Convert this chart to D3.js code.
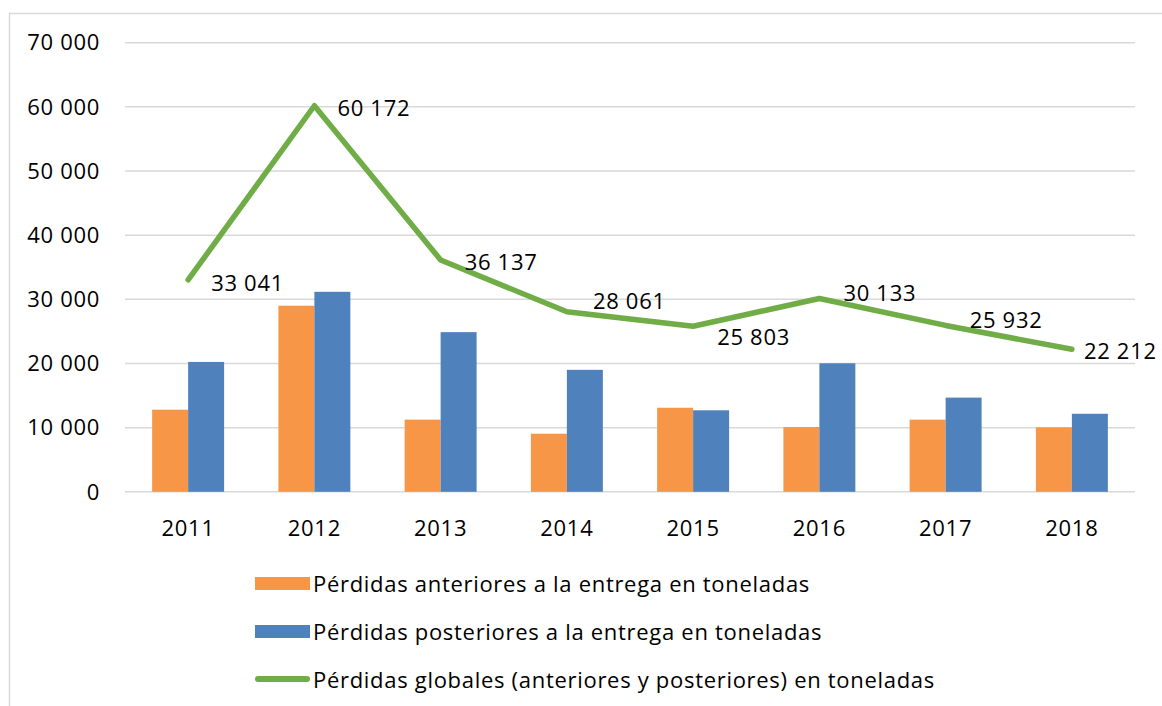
<!DOCTYPE html>
<html>
<head>
<meta charset="utf-8">
<script src="https://cdn.jsdelivr.net/npm/d3@7"></script>
<style>
  body { margin: 0; background: #fff; }
  text { font-family: "Open Sans", sans-serif; fill: #000; letter-spacing: 0.7px; }
</style>
</head>
<body>
<div id="chart"></div>
<script>
// chart data
var years = ["2011", "2012", "2013", "2014", "2015", "2016", "2017", "2018"];
var antes = [12800, 29000, 11250, 9050, 13100, 10100, 11250, 10050];
var despues = [20241, 31172, 24887, 19011, 12703, 20033, 14682, 12162];
var globales = [33041, 60172, 36137, 28061, 25803, 30133, 25932, 22212];
var yTicks = [0, 10000, 20000, 30000, 40000, 50000, 60000, 70000];
var seriesNames = [
    "Pérdidas anteriores a la entrega en toneladas",
    "Pérdidas posteriores a la entrega en toneladas",
    "Pérdidas globales (anteriores y posteriores) en toneladas"
];

// label nudges (the labels were moved by hand in the original)
var labelOffsets = [[23, 3], [23, 3], [24, 2], [26, -10], [24, 11], [24, -5], [24, -5], [12, 2]];

var width = 1162, height = 706;
var colors = ["#F79646", "#4F81BD", "#70AD47"];

var svg = d3.select("#chart").append("svg")
    .attr("width", width)
    .attr("height", height);

// chart border (only left and top visible)
svg.append("path")
    .attr("d", "M9.5,706 V13.5 H1162")
    .attr("fill", "none")
    .attr("stroke", "#D9D9D9")
    .attr("stroke-width", 1.5);

var x = d3.scaleBand()
    .domain(years)
    .range([125, 1135])
    .paddingInner(0.43)
    .paddingOuter(0.215);

var x1 = d3.scaleBand()
    .domain([0, 1])
    .range([0, x.bandwidth()]);

var y = d3.scaleLinear()
    .domain([0, 70000])
    .range([491.8, 42.7]);

function fmt(v) {
    return d3.format(",")(v).replace(/,/g, " ");
}

// gridlines
svg.append("g")
    .selectAll("line")
    .data(yTicks)
    .enter()
    .append("line")
    .attr("x1", 125)
    .attr("x2", 1135)
    .attr("y1", d => y(d))
    .attr("y2", d => y(d))
    .attr("stroke", "#D9D9D9")
    .attr("stroke-width", 1.5);

// y axis labels
svg.append("g")
    .selectAll("text")
    .data(yTicks)
    .enter()
    .append("text")
    .attr("x", 100)
    .attr("y", d => y(d))
    .attr("dy", "0.35em")
    .attr("text-anchor", "end")
    .style("font-size", "22px")
    .text(d => fmt(d));

// x axis labels
svg.append("g")
    .selectAll("text")
    .data(years)
    .enter()
    .append("text")
    .attr("x", d => x(d) + x.bandwidth() / 2)
    .attr("y", 528)
    .attr("dy", "0.35em")
    .attr("text-anchor", "middle")
    .style("font-size", "22px")
    .text(d => d);

// bars
[antes, despues].forEach(function(vals, s) {
    svg.append("g")
        .selectAll("rect")
        .data(vals)
        .enter()
        .append("rect")
        .attr("x", (d, i) => x(years[i]) + x1(s))
        .attr("width", x1.bandwidth())
        .attr("y", d => y(d))
        .attr("height", d => y(0) - y(d))
        .attr("fill", colors[s]);
});

// global line
var line = d3.line()
    .x((d, i) => x(years[i]) + x.bandwidth() / 2)
    .y(d => y(d));

svg.append("path")
    .datum(globales)
    .attr("d", line)
    .attr("fill", "none")
    .attr("stroke", colors[2])
    .attr("stroke-width", 5.5)
    .attr("stroke-linecap", "round")
    .attr("stroke-linejoin", "round");

// value labels
svg.append("g")
    .selectAll("text")
    .data(globales)
    .enter()
    .append("text")
    .attr("x", (d, i) => x(years[i]) + x.bandwidth() / 2 + labelOffsets[i][0])
    .attr("y", (d, i) => y(d) + labelOffsets[i][1])
    .attr("dy", "0.35em")
    .style("font-size", "22px")
    .text(d => fmt(d));

// legend
var legend = svg.append("g");
var rowY = [584, 632, 680];

seriesNames.forEach(function(name, i) {
    if (i < 2) {
        legend.append("rect")
            .attr("x", 255)
            .attr("y", rowY[i] - 7)
            .attr("width", 55)
            .attr("height", 13)
            .attr("fill", colors[i]);
    } else {
        legend.append("line")
            .attr("x1", 258)
            .attr("x2", 307)
            .attr("y1", rowY[i] - 1)
            .attr("y2", rowY[i] - 1)
            .attr("stroke", colors[i])
            .attr("stroke-width", 6)
            .attr("stroke-linecap", "round");
    }
    legend.append("text")
        .attr("x", 313)
        .attr("y", rowY[i])
        .attr("dy", "0.35em")
        .style("font-size", "22px")
        .text(name);
});
</script>
</body>
</html>
